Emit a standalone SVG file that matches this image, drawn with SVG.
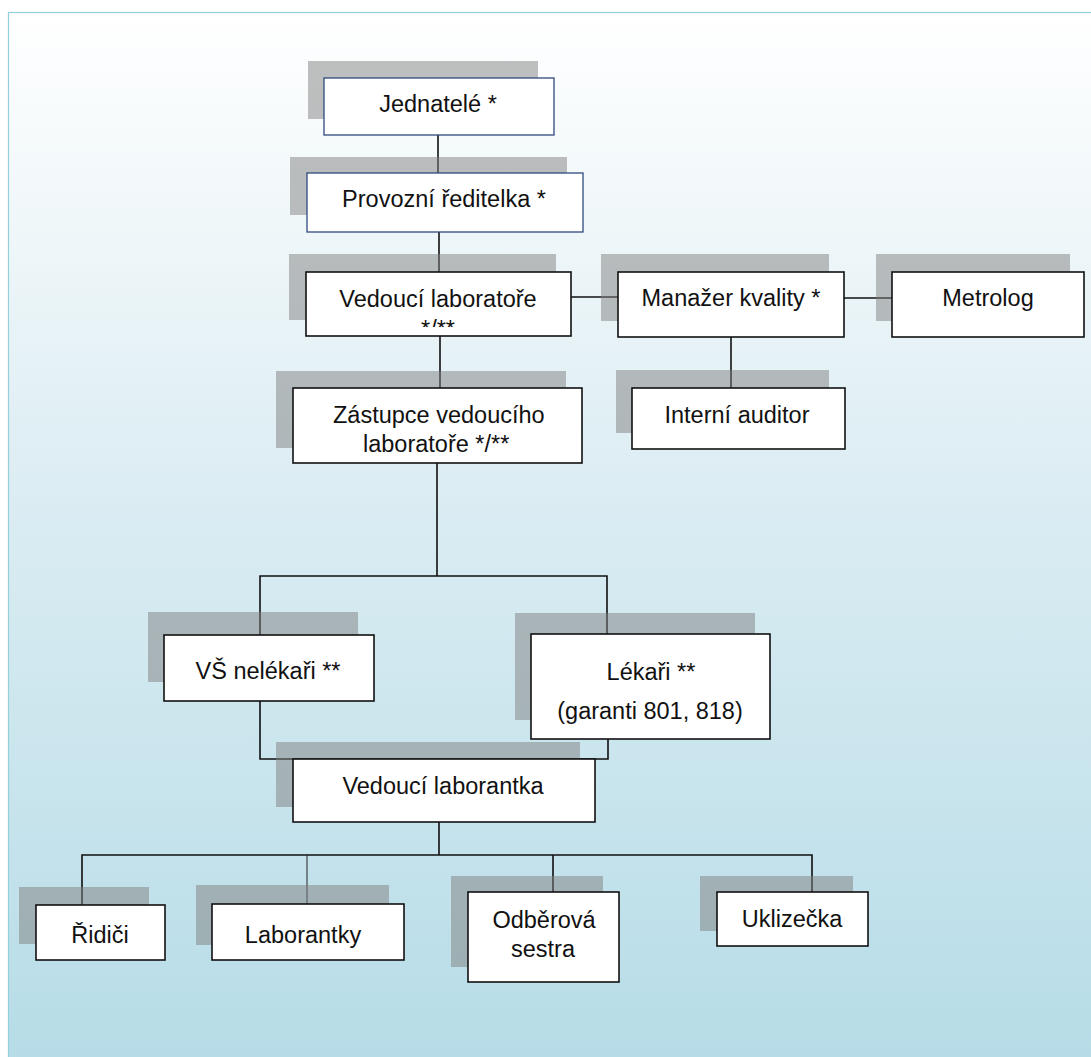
<svg xmlns="http://www.w3.org/2000/svg" width="1091" height="1057" viewBox="0 0 1091 1057">
<defs>
<linearGradient id="bg" x1="0" y1="0" x2="0" y2="1">
<stop offset="0" stop-color="#ffffff"/>
<stop offset="0.45" stop-color="#dcedf3"/>
<stop offset="1" stop-color="#b6dce7"/>
</linearGradient>
<clipPath id="clipVL"><rect x="306" y="272" width="265" height="55"/></clipPath>
<style>
.sh{fill:#808080;fill-opacity:0.5}
.bx{fill:#ffffff;stroke:#111111;stroke-width:1.6}
.bb{fill:#ffffff;stroke:#2e4a7d;stroke-width:1.3}
.t{font-family:"Liberation Sans",Arial,sans-serif;font-size:23.5px;fill:#111111;text-anchor:middle}
.ts{font-family:"Liberation Sans",Arial,sans-serif;font-size:23.5px;fill:#111111}
.c{stroke:#111111;stroke-width:1.6;fill:none}
.c1{stroke:#222222;stroke-width:1;fill:none}
</style>
</defs>
<rect x="0" y="0" width="1091" height="1057" fill="#ffffff"/>
<rect x="8.5" y="12.5" width="1090" height="1050" fill="url(#bg)" stroke="#92d0dc" stroke-width="1.2"/>

<g id="connectors">
<line class="c" x1="438" y1="135" x2="438" y2="173"/>
<line class="c" x1="439" y1="232" x2="439" y2="272"/>
<line class="c" x1="440" y1="336" x2="440" y2="388"/>
<line class="c" x1="571" y1="297" x2="618" y2="297"/>
<line class="c" x1="844" y1="298" x2="892" y2="298"/>
<line class="c" x1="731" y1="337" x2="731" y2="388"/>
<polyline class="c" points="437,463 437,576"/>
<polyline class="c" points="260,635 260,576 607,576 607,634"/>
<polyline class="c" points="260,701 260,759 608,759 608,739"/>
<line class="c" x1="439" y1="822" x2="439" y2="855"/>
<polyline class="c" points="82,905 82,855 812,855 812,892"/>
<line class="c1" x1="307" y1="855" x2="307" y2="904"/>
<line class="c" x1="553" y1="855" x2="553" y2="892"/>
</g>

<g id="n-jednatele">
<rect class="sh" x="308" y="61" width="230" height="58"/>
<rect class="bb" x="324" y="78" width="230" height="57"/>
<text class="t" x="438" y="112">Jednatelé *</text>
</g>

<g id="n-provozni">
<rect class="sh" x="290" y="157" width="277" height="58"/>
<rect class="bb" x="307" y="173" width="276" height="59"/>
<text class="t" x="444" y="207">Provozní ředitelka *</text>
</g>

<g id="n-vedouci-lab">
<rect class="sh" x="289" y="254" width="267" height="66"/>
<rect class="bx" x="306" y="272" width="265" height="64"/>
<text class="t" x="438" y="307">Vedoucí laboratoře</text>
<text class="t" x="438" y="337" clip-path="url(#clipVL)">*/**</text>
</g>

<g id="n-manazer">
<rect class="sh" x="601" y="254" width="228" height="67"/>
<rect class="bx" x="618" y="272" width="226" height="65"/>
<text class="t" x="731" y="306">Manažer kvality *</text>
</g>

<g id="n-metrolog">
<rect class="sh" x="876" y="254" width="194" height="67"/>
<rect class="bx" x="892" y="272" width="192" height="65"/>
<text class="t" x="988" y="306">Metrolog</text>
</g>

<g id="n-auditor">
<rect class="sh" x="616" y="370" width="213" height="63"/>
<rect class="bx" x="632" y="388" width="213" height="61"/>
<text class="t" x="737" y="423">Interní auditor</text>
</g>

<g id="n-zastupce">
<rect class="sh" x="276" y="371" width="290" height="77"/>
<rect class="bx" x="293" y="388" width="289" height="75"/>
<text class="ts" x="333" y="423">Zástupce vedoucího</text>
<text class="ts" x="363" y="452">laboratoře */**</text>
</g>

<g id="n-vs">
<rect class="sh" x="148" y="612" width="210" height="70"/>
<rect class="bx" x="164" y="635" width="210" height="66"/>
<text class="t" x="268" y="679">VŠ nelékaři **</text>
</g>

<g id="n-lekari">
<rect class="sh" x="515" y="613" width="240" height="107"/>
<rect class="bx" x="531" y="634" width="239" height="105"/>
<text class="t" x="651" y="680">Lékaři **</text>
<text class="t" x="650" y="719">(garanti 801, 818)</text>
</g>

<g id="n-vedouci-laborantka">
<rect class="sh" x="276" y="742" width="304" height="65"/>
<rect class="bx" x="293" y="759" width="302" height="63"/>
<text class="t" x="443" y="794">Vedoucí laborantka</text>
</g>

<g id="n-ridici">
<rect class="sh" x="19" y="887" width="130" height="57"/>
<rect class="bx" x="36" y="905" width="129" height="55"/>
<text class="t" x="100" y="943">Řidiči</text>
</g>

<g id="n-laborantky">
<rect class="sh" x="196" y="885" width="193" height="60"/>
<rect class="bx" x="212" y="904" width="192" height="56"/>
<text class="t" x="303" y="943">Laborantky</text>
</g>

<g id="n-odberova">
<rect class="sh" x="451" y="876" width="152" height="91"/>
<rect class="bx" x="468" y="892" width="151" height="90"/>
<text class="t" x="544" y="928">Odběrová</text>
<text class="t" x="543" y="957">sestra</text>
</g>

<g id="n-uklizecka">
<rect class="sh" x="700" y="876" width="153" height="55"/>
<rect class="bx" x="717" y="892" width="151" height="54"/>
<text class="t" x="792" y="927">Uklizečka</text>
</g>
</svg>
